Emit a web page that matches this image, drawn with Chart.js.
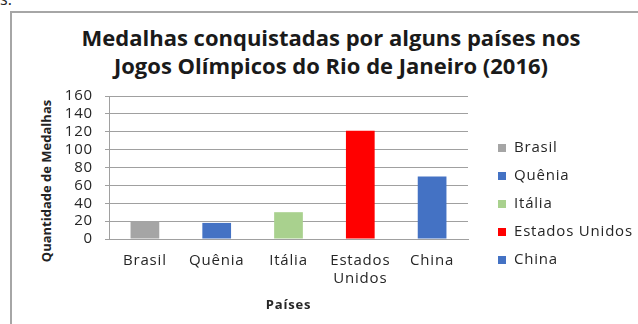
<!DOCTYPE html>
<html>
<head>
<meta charset="utf-8">
<script src="https://cdn.jsdelivr.net/npm/chart.js@4/dist/chart.umd.min.js"></script>
<style>
  html, body { margin: 0; padding: 0; background: #fff; width: 638px; height: 324px; overflow: hidden; font-family: "Open Sans", sans-serif; }
  #frag { position: absolute; left: 0; top: -12px; font-size: 16px; color: #222; }
  #frame { position: absolute; left: 10px; top: 11px; width: 640px; height: 320px; border-top: 2px solid #a6a6a6; border-left: 2px solid #a6a6a6; }
  #title { position: absolute; left: 31px; width: 600px; top: 23px; text-align: center; font-weight: bold; font-size: 22px; line-height: 28px; color: #1a1a1a; }
  #ytitle { position: absolute; left: 46px; top: 181px; transform: translate(-50%, -50%) rotate(-90deg); white-space: nowrap; font-weight: bold; font-size: 13px; color: #222; }
  #wrap { position: absolute; left: 0; top: 0; width: 638px; height: 324px; }
</style>
</head>
<body>
<div id="frag">s.</div>
<div id="frame"></div>
<div id="title">Medalhas conquistadas por alguns países nos<br>Jogos Olímpicos do Rio de Janeiro (2016)</div>
<div id="ytitle">Quantidade de Medalhas</div>
<div id="wrap"><canvas id="c" width="638" height="324"></canvas></div>
<script>
  var categories = ["Brasil", "Quênia", "Itália", "Estados Unidos", "China"];
  var medals = [20, 18, 30, 121, 70];
  var barColors = ["#a5a5a5", "#4472c4", "#a9d18e", "#ff0000", "#4472c4"];
  var yTicks = [0, 20, 40, 60, 80, 100, 120, 140, 160];

  var TXT = "#262626", GRID = "#a0a0a0";

  // legend on the right, one entry per country (Excel "vary colours by point")
  var sideLegend = {
    id: "sideLegend",
    beforeDraw: function (chart) { chart.ctx.letterSpacing = "0.8px"; },
    afterDraw: function (chart) {
      var ctx = chart.ctx, ds = chart.data.datasets[0];
      ctx.save();
      ctx.font = "15px 'Open Sans'";
      ctx.textBaseline = "middle";
      ctx.textAlign = "left";
      chart.data.labels.forEach(function (lab, i) {
        var y = 148 + i * 28;
        ctx.fillStyle = ds.backgroundColor[i];
        ctx.fillRect(498, y - 4, 8, 8);
        ctx.fillStyle = TXT;
        ctx.fillText(lab, 514, y);
      });
      ctx.restore();
    }
  };

  new Chart(document.getElementById("c"), {
    type: "bar",
    data: {
      labels: categories,
      datasets: [{
        data: medals,
        backgroundColor: barColors,
        borderWidth: 0,
        categoryPercentage: 1,
        barPercentage: 0.4
      }]
    },
    options: {
      responsive: false, animation: false,
      layout: { padding: { left: 30, right: 170, top: 96, bottom: 10 } },
      plugins: { legend: { display: false }, tooltip: { enabled: false }, title: { display: false } },
      scales: {
        x: {
          afterFit: function (s) { s.height = 75; },
          grid: { display: false },
          border: { color: GRID, width: 1 },
          ticks: {
            color: TXT, font: { family: "Open Sans", size: 15 }, padding: 5,
            maxRotation: 0, autoSkip: false,
            callback: function (v, i) { var s = categories[i]; return s.indexOf(" ") > 0 ? s.split(" ") : s; }
          },
          title: { display: true, text: "Países", color: TXT, font: { family: "Open Sans", size: 13, weight: "bold" }, padding: { top: 10, bottom: 1 } }
        },
        y: {
          min: 0, max: 160,
          afterBuildTicks: function (s) { s.ticks = yTicks.map(function (v) { return { value: v }; }); },
          afterFit: function (s) { s.width = 79; },
          grid: { color: GRID, lineWidth: 1, tickLength: 4, drawTicks: true },
          border: { color: GRID, width: 1 },
          ticks: { color: TXT, font: { family: "Open Sans", size: 15 }, padding: 12, autoSkip: false }
        }
      }
    },
    plugins: [sideLegend]
  });
</script>
</body>
</html>
